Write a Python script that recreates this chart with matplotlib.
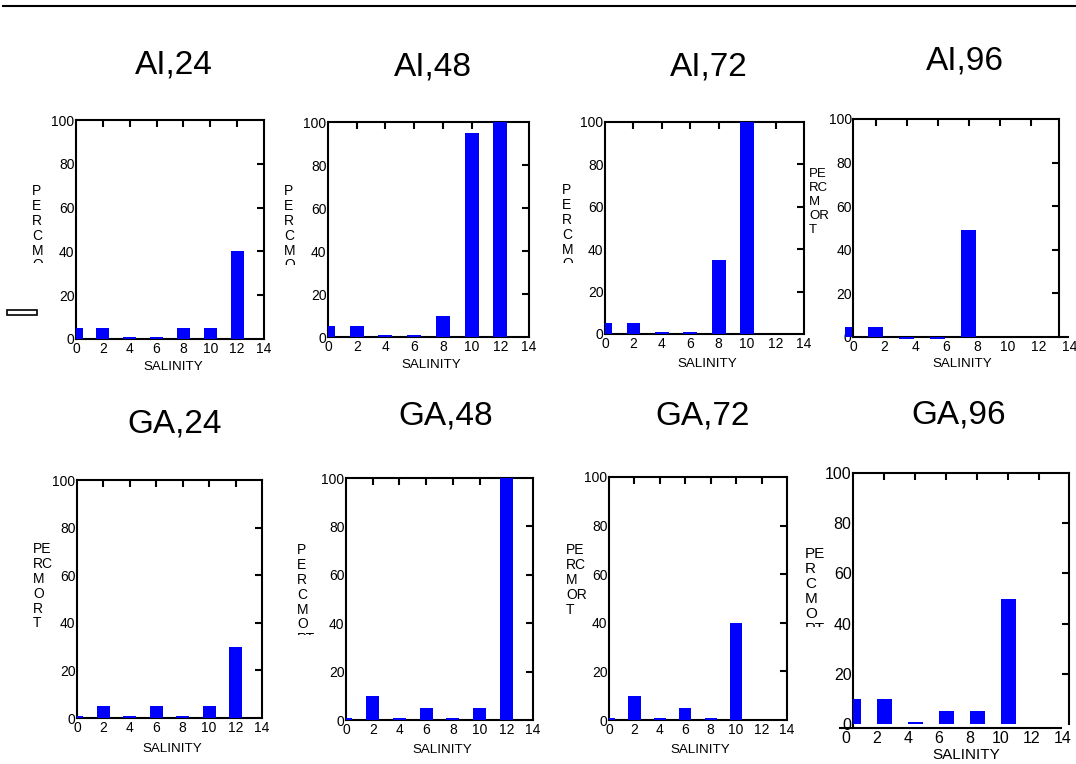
import matplotlib
matplotlib.use('Agg')
import matplotlib.pyplot as plt
from matplotlib.patches import Rectangle
from matplotlib.lines import Line2D
from matplotlib.transforms import Bbox, TransformedBbox

plt.rcParams['font.family'] = ['Liberation Sans', 'DejaVu Sans']

W, H = 1076, 764

# ---------------- data ----------------
salinity = [0, 2, 4, 6, 8, 10, 12]
x_ticks = [0, 2, 4, 6, 8, 10, 12, 14]
x_tick_labels = ['0', '2', '4', '6', '8', '10', '12', '14']
y_ticks = [0, 20, 40, 60, 80, 100]
y_tick_labels = ['0', '20', '40', '60', '80', '100']
y_minor = [20, 40, 60, 80]

titles = ['AI,24', 'AI,48', 'AI,72', 'AI,96', 'GA,24', 'GA,48', 'GA,72', 'GA,96']

ai_24 = [5, 5, 0.8, 0.8, 5, 5, 40]
ai_48 = [5, 5, 0.8, 0.8, 10, 95, 100]
ai_72 = [5, 5, 0.8, 0.8, 35, 100, 0]
ai_96 = [4.5, 4.5, -1, -1, 49, 0, 0]
ga_24 = [0.8, 5, 0.8, 5, 0.8, 5, 30]
ga_48 = [0.8, 10, 0.8, 5, 0.8, 5, 100]
ga_72 = [0.8, 10, 0.8, 5, 0.8, 40, 0]
ga_96 = [10, 10, 0.8, 5, 5, 50, 0]
series = [ai_24, ai_48, ai_72, ai_96, ga_24, ga_48, ga_72, ga_96]

y_labels = ['P\nE\nR\nC\nM\nO\nR\nT', 'P\nE\nR\nC\nM\nO\nR\nT', 'P\nE\nR\nC\nM\nO\nR\nT',
            'PE\nRC\nM\nOR\nT', 'PE\nRC\nM\nO\nR\nT', 'P\nE\nR\nC\nM\nO\nRT',
            'PE\nRC\nM\nOR\nT', 'PE\nR\nC\nM\nO\nRT']
x_label = 'SALINITY'

# ---------------- layout / style ----------------
BLUE = '#0000ff'
base = dict(xlim=(0, 14), ylim=(0, 100), lsp=None, rsp=None, top_b=None, bot_b=None,
            bot_y=None, lshift=0.0, tshift=0.0, align='center', clipx=None, fs=10,
            xlfs=9.6, ylfs=10, ylclip=None, ls=1.08)
layouts = [
    dict(px0=76, ppx=13.43, py0=339, ppy=2.19, title=(174, 73), xl=(173, 370), yl=(38, 184), ylclip=263),
    dict(px0=328, ppx=14.36, py0=337, ppy=2.15, title=(433, 76), xl=(431, 368), yl=(290, 184), ylclip=265),
    dict(px0=605, ppx=14.21, py0=334, ppy=2.12, title=(709, 76), xl=(707, 367), yl=(568, 183), ylclip=263),
    dict(px0=844.5, ppx=15.5, py0=337, ppy=2.18, title=(965, 69), xl=(962, 367), yl=(809, 168, 'left'),
         xlim=(0, 14.6), ylim=(-3, 100), lsp=0.55, rsp=13.84, top_b=(0.55, 13.84),
         bot_b=(0.55, 14.45), bot_y=0, lshift=0.55, ylfs=9.5, ls=1.22),
    dict(px0=77, ppx=13.21, py0=718, ppy=2.38, title=(175, 432), xl=(172, 752), yl=(33, 542, 'left')),
    dict(px0=346, ppx=13.36, py0=720, ppy=2.42, title=(446, 425), xl=(442, 753), yl=(306, 543), ylclip=635),
    dict(px0=609, ppx=12.71, py0=720, ppy=2.43, title=(703, 425), xl=(700, 753), yl=(566, 543, 'left')),
    dict(px0=846, ppx=15.5, py0=724, ppy=2.51, title=(959, 423), xl=(966, 759), yl=(805, 547, 'left'),
         xlim=(-0.45, 14.45), ylim=(-1.6, 100), lsp=0.45, rsp=14.39, top_b=(0.45, 14.39),
         bot_b=(-0.4, 13.9), tshift=0.45, align='edge', clipx=0.45, fs=11.5, xlfs=11, ylfs=11,
         ylclip=627, ls=1.09),
]

fig = plt.figure(figsize=(W / 100, H / 100), dpi=100)


def fx(p):
    return p / W


def fy(p):
    return 1 - p / H


for i, (vals, lay0) in enumerate(zip(series, layouts)):
    lay = dict(base)
    lay.update(lay0)
    xa, xb = lay['xlim']
    ya, yb = lay['ylim']
    L = lay['px0'] + xa * lay['ppx']
    R = lay['px0'] + xb * lay['ppx']
    B = lay['py0'] - ya * lay['ppy']
    T = lay['py0'] - yb * lay['ppy']
    ax = fig.add_axes([fx(L), fy(B), (R - L) / W, (B - T) / H])
    ax.set_xlim(xa, xb)
    ax.set_ylim(ya, yb)
    ax.xaxis.remove_overlapping_locs = False
    ax.yaxis.remove_overlapping_locs = False

    bars = ax.bar(salinity, vals, width=0.97, align=lay['align'], color=BLUE,
                  linewidth=0, zorder=3)
    if lay['clipx'] is not None:
        for b in bars:
            b.set_clip_path(Rectangle((lay['clipx'], ya - 10), 30, 200,
                                      transform=ax.transData))

    for s in ax.spines.values():
        s.set_linewidth(1.5)
        s.set_color('black')
    if lay['lsp'] is not None:
        ax.spines['left'].set_position(('data', lay['lsp']))
    if lay['rsp'] is not None:
        ax.spines['right'].set_position(('data', lay['rsp']))
        ax.spines['right'].set_bounds(0, 100)
    if lay['top_b'] is not None:
        ax.spines['top'].set_bounds(*lay['top_b'])
    if lay['bot_b'] is not None:
        ax.spines['bottom'].set_bounds(*lay['bot_b'])
    if lay['bot_y'] is not None:
        ax.spines['bottom'].set_position(('data', lay['bot_y']))
        ax.spines['left'].set_bounds(0, 100)

    ax.set_xticks([t + lay['lshift'] for t in x_ticks])
    ax.set_xticklabels(x_tick_labels)
    ax.set_xticks([t + lay['tshift'] for t in x_ticks[1:-1]], minor=True)
    ax.set_yticks(y_ticks)
    ax.set_yticklabels(y_tick_labels)
    ax.set_yticks(y_minor, minor=True)
    ax.tick_params(which='major', length=0, bottom=False, top=False, left=False,
                   right=False, labelbottom=True, labelleft=True,
                   labelsize=lay['fs'], colors='black')
    ax.tick_params(axis='x', which='major', pad=2)
    ax.tick_params(axis='y', which='major', pad=1)
    ax.tick_params(axis='x', which='minor', bottom=False, top=True, direction='in',
                   length=5, width=1.5)
    ax.tick_params(axis='y', which='minor', left=False, right=True, direction='in',
                   length=5, width=1.5)

    # title
    tx, ty = lay['title']
    fig.text(fx(tx), fy(ty), titles[i], fontsize=24, ha='center', va='baseline')
    # x label
    lx, ly = lay['xl']
    fig.text(fx(lx), fy(ly), x_label, fontsize=lay['xlfs'], ha='center', va='baseline')
    # stacked y label
    yl = lay['yl']
    ha = yl[2] if len(yl) > 2 else 'center'
    t = fig.text(fx(yl[0]), fy(yl[1]), y_labels[i], fontsize=lay['ylfs'], ha=ha,
                 va='top', linespacing=lay['ls'], multialignment='left')
    if lay['ylclip'] is not None:
        t.set_clip_box(TransformedBbox(Bbox.from_extents(0, fy(lay['ylclip']), 1, 1),
                                       fig.transFigure))
        t.set_clip_on(True)

# top rule and small box
fig.add_artist(Line2D([fx(3), 1], [fy(6), fy(6)], transform=fig.transFigure,
                      color='black', linewidth=1.5))
fig.add_artist(Rectangle((fx(7), fy(315)), 30 / W, 5 / H, transform=fig.transFigure,
                         fill=False, edgecolor='black', linewidth=1.2))

fig.savefig('out.png', dpi=100)
